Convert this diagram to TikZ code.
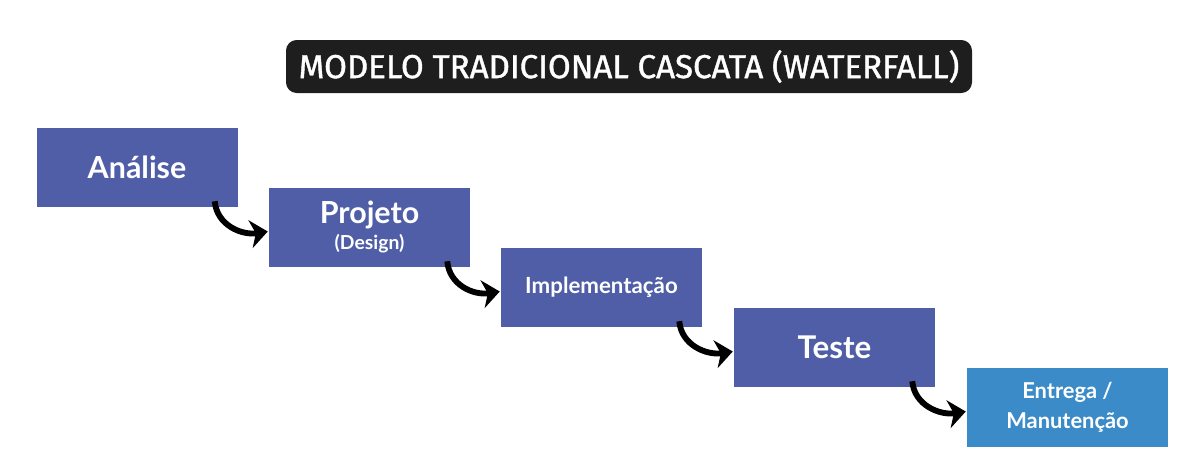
\documentclass[tikz,border=0pt]{standalone}
\usepackage{fontspec}
\setmainfont{Lato}
\newfontfamily\titlefont[FakeBold=1.2]{Fira Sans}
\usetikzlibrary{arrows.meta,calc}
\definecolor{stepblue}{HTML}{4F5EA7}
\definecolor{lastblue}{HTML}{3B8BC8}
\definecolor{titlebg}{HTML}{1E1E1E}
\tikzset{
  stepbox/.style={fill=stepblue, draw=none, minimum width=201*0.75pt, minimum height=79*0.75pt, inner sep=0pt, text=white, font=\bfseries, align=center},
  lastbox/.style={stepbox, fill=lastblue},
  arr/.style={line width=4.4pt, -{Stealth[length=13pt, width=21pt, inset=4pt]}, black},
}
\begin{document}
\begin{tikzpicture}[x=0.75pt, y=-0.75pt]
\useasboundingbox (0,0) rectangle (1193,471);
\node[fill=titlebg, rounded corners=8pt, minimum width=686*0.75pt, minimum height=53*0.75pt, inner sep=0pt, text=white, font=\titlefont\fontsize{24.8}{28}\selectfont] (title) at (629,66.5) {MODELO TRADICIONAL CASCATA (WATERFALL)};
\node[stepbox, font=\bfseries\fontsize{22.8}{26}\selectfont] (a1) at (137,167.5) {Análise};
\node[stepbox] (a2) at (369.5,227.5) {\raisebox{-1.5pt}{\begin{tabular}{@{}c@{}}{\fontsize{22.8}{26}\selectfont Projeto}\\[5pt]{\fontsize{14.5}{16}\selectfont (Design)}\end{tabular}}};
\node[stepbox, font=\bfseries\fontsize{16.7}{20}\selectfont] (a3) at (601.5,287.5) {Implementação};
\node[stepbox, font=\bfseries\fontsize{23.5}{26}\selectfont] (a4) at (834.5,347.5) {Teste};
\node[lastbox, font=\bfseries\fontsize{16.4}{22.5}\selectfont] (a5) at (1067.5,407.5) {Entrega /\\Manutenção};
\foreach \p/\q in {a1/a2, a2/a3, a3/a4, a4/a5}{
  \draw[arr] ($(\p.south east)+(-23,-6)$) .. controls +(2,24) and +(-26,4) .. ($(\q.west)+(-1,4)$);
}
\end{tikzpicture}
\end{document}
